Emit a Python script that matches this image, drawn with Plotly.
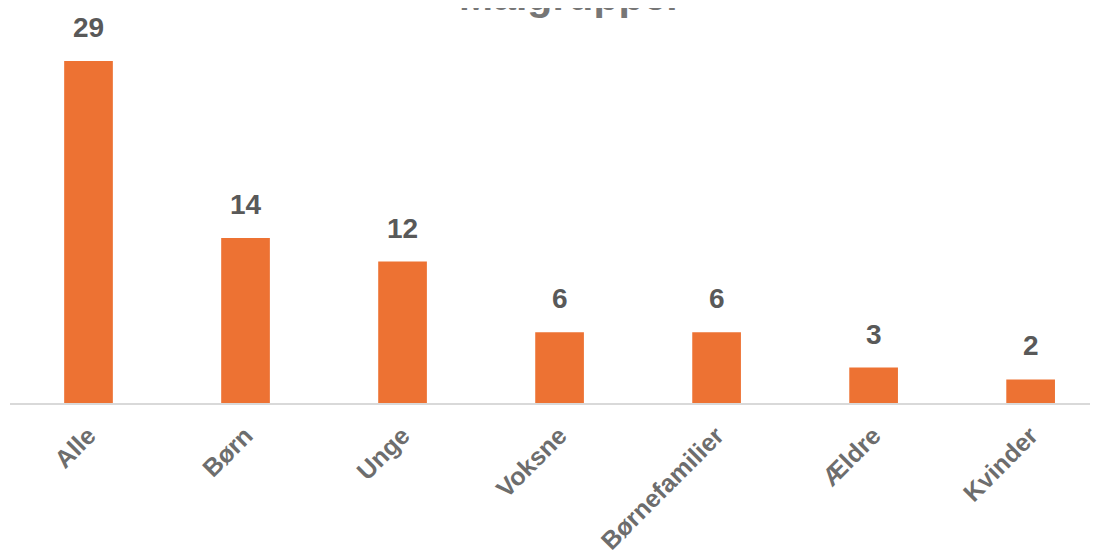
import plotly.graph_objects as go

categories = ["Alle", "Børn", "Unge", "Voksne", "Børnefamilier", "Ældre", "Kvinder"]
values = [29, 14, 12, 6, 6, 3, 2]
title_text = "Målgrupper"

fig = go.Figure()
fig.add_trace(go.Bar(
    x=categories, y=values,
    marker=dict(color="#ED7233", line=dict(width=0)),
    width=0.31,
))

for c, v in zip(categories, values):
    fig.add_annotation(
        x=c, y=v, text=f"<b>{v}</b>", showarrow=False,
        yanchor="bottom", yshift=16,
        font=dict(family="Liberation Sans, Arial, sans-serif", size=28, color="#595959"),
    )

fig.add_annotation(
    x=0.5, xref="paper", y=0.9975, yref="paper",
    xanchor="center", yanchor="bottom", showarrow=False, xshift=12,
    text=f"<b>{title_text}</b>",
    font=dict(family="Liberation Sans, Arial, sans-serif", size=41, color="#767676"),
)

fig.update_layout(
    width=1098, height=556,
    margin=dict(l=2, r=0, t=12, b=161, autoexpand=False),
    paper_bgcolor="white", plot_bgcolor="white",
    showlegend=False,
    xaxis=dict(
        range=[-0.5, 6.48],
        automargin=False,
        showgrid=False, zeroline=False,
        showline=True, linecolor="#D9D9D9", linewidth=2,
        tickangle=-45, ticks="",
        tickfont=dict(family="Liberation Sans, Arial, sans-serif", size=25, color="#6D6D6D"),
        ticklabelstandoff=6,
    ),
    yaxis=dict(
        range=[0, 32.48],
        automargin=False,
        visible=False, showgrid=False, zeroline=False,
    ),
)
fig.update_xaxes(tickprefix="<b>", ticksuffix="</b>")

fig.write_html("out.html")
